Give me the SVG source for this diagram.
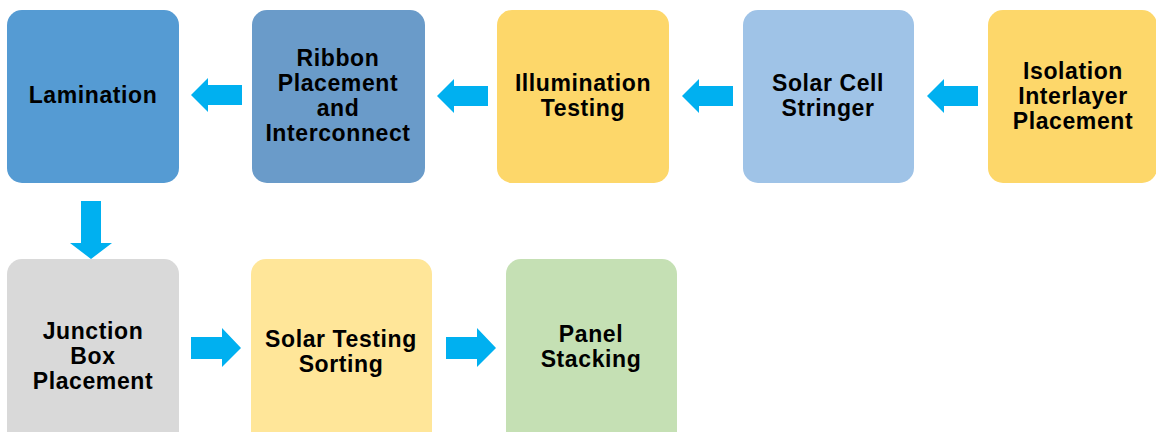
<svg xmlns="http://www.w3.org/2000/svg" width="1156" height="432" viewBox="0 0 1156 432">
<style>
.box{stroke:none}
.t{font-family:"Liberation Sans",Arial,sans-serif;font-weight:bold;font-size:23px;letter-spacing:0.6px;fill:#000;text-anchor:middle}
.arr{fill:#00B0F0}
</style>
<rect width="1156" height="432" fill="#fff"/>
<g id="lamination"><rect class="box" x="7" y="10" width="172" height="173" rx="15" fill="#559BD3"/><text class="t" x="93" y="103">Lamination</text></g>
<g id="ribbon"><rect class="box" x="252" y="10" width="173" height="173" rx="15" fill="#6A9BC9"/><text class="t" x="338" y="66">Ribbon</text><text class="t" x="338" y="91">Placement</text><text class="t" x="338" y="116">and</text><text class="t" x="338" y="141">Interconnect</text></g>
<g id="illumination"><rect class="box" x="497" y="10" width="172" height="173" rx="15" fill="#FDD76A"/><text class="t" x="583" y="91">Illumination</text><text class="t" x="583" y="116">Testing</text></g>
<g id="stringer"><rect class="box" x="743" y="10" width="171" height="173" rx="15" fill="#9FC3E7"/><text class="t" x="828" y="91">Solar Cell</text><text class="t" x="828" y="116">Stringer</text></g>
<g id="isolation"><rect class="box" x="988" y="10" width="169" height="173" rx="15" fill="#FDD76A"/><text class="t" x="1073" y="79">Isolation</text><text class="t" x="1073" y="104">Interlayer</text><text class="t" x="1073" y="129">Placement</text></g>
<g id="junction"><rect class="box" x="7" y="259" width="172" height="190" rx="15" fill="#D9D9D9"/><text class="t" x="93" y="339">Junction</text><text class="t" x="93" y="364">Box</text><text class="t" x="93" y="389">Placement</text></g>
<g id="sorting"><rect class="box" x="251" y="259" width="181" height="190" rx="15" fill="#FFE699"/><text class="t" x="341" y="347">Solar Testing</text><text class="t" x="341" y="372">Sorting</text></g>
<g id="stacking"><rect class="box" x="506" y="259" width="171" height="190" rx="15" fill="#C5E0B4"/><text class="t" x="591" y="342">Panel</text><text class="t" x="591" y="367">Stacking</text></g>
<g id="connectors">
<path class="arr" d="M191,95 L208,78 L208,85 L242,85 L242,105 L208,105 L208,112 Z"/>
<path class="arr" d="M437,96 L454,79 L454,86 L488,86 L488,106 L454,106 L454,113 Z"/>
<path class="arr" d="M682,96 L699,79 L699,86 L733,86 L733,106 L699,106 L699,113 Z"/>
<path class="arr" d="M927,96 L944,79 L944,86 L978,86 L978,106 L944,106 L944,113 Z"/>
<path class="arr" d="M91,259 L70,243 L81,243 L81,201 L101,201 L101,243 L112,243 Z"/>
<path class="arr" d="M241,348 L222,328 L222,337 L191,337 L191,359 L222,359 L222,367 Z"/>
<path class="arr" d="M496,348 L477,328 L477,337 L446,337 L446,359 L477,359 L477,367 Z"/>
</g>
</svg>
